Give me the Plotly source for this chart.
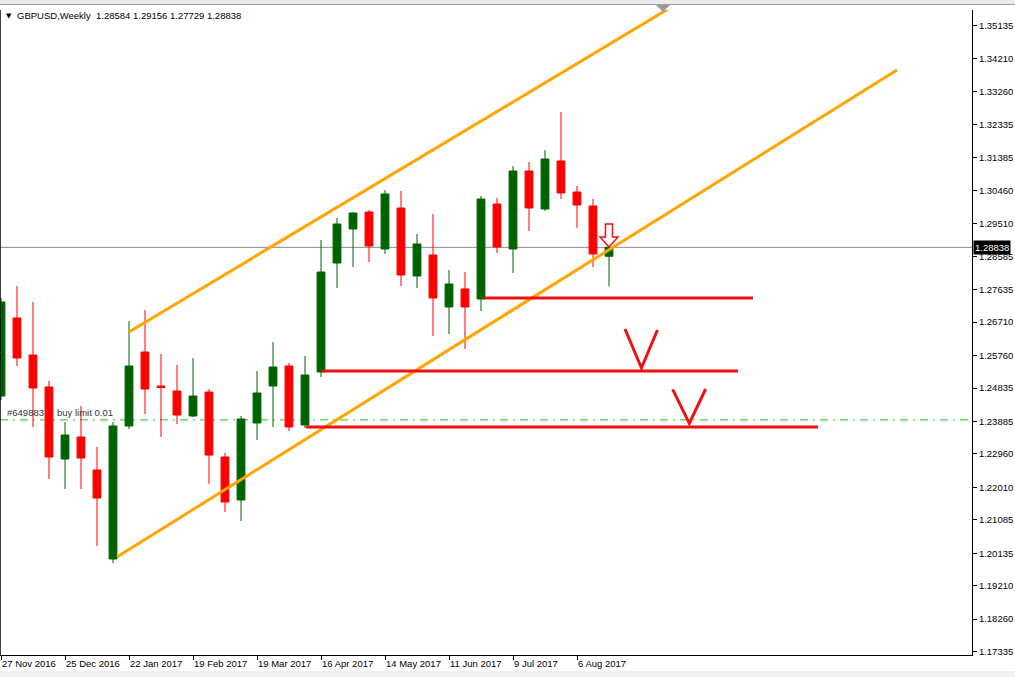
import plotly.graph_objects as go
import pandas as pd

# ---------------- data ----------------
weeks = pd.date_range("2016-11-27", periods=39, freq="7D").strftime("%Y-%m-%d").tolist()

opens = [1.24608, 1.26828, 1.25775, 1.24865, 1.22816, 1.23442, 1.22503, 1.19971, 1.23755, 1.25860,
         1.24893, 1.24751, 1.24039, 1.24722, 1.22873, 1.21650, 1.23840, 1.24893, 1.25462, 1.23783,
         1.25291, 1.28392, 1.29360, 1.29843, 1.28791, 1.29957, 1.28022, 1.28620, 1.27141, 1.27653,
         1.27368, 1.30071, 1.28791, 1.31010, 1.29929, 1.31294, 1.30412, 1.30014, 1.28584]
highs = [1.27397, 1.27738, 1.27283, 1.25035, 1.23869, 1.24324, 1.23158, 1.23869, 1.26742, 1.27055,
         1.25803, 1.25490, 1.25690, 1.24808, 1.22987, 1.24039, 1.25320, 1.26145, 1.25547, 1.25746,
         1.29047, 1.29673, 1.29843, 1.29900, 1.30469, 1.30441, 1.29217, 1.29786, 1.28193, 1.28136,
         1.30298, 1.30242, 1.31152, 1.31266, 1.31607, 1.32688, 1.30583, 1.30213, 1.29156]
lows = [1.24495, 1.25462, 1.23727, 1.22247, 1.21963, 1.21963, 1.20341, 1.19857, 1.23670, 1.24096,
        1.23442, 1.23812, 1.24011, 1.22105, 1.21308, 1.21052, 1.23357, 1.23727, 1.23613, 1.23698,
        1.25149, 1.27681, 1.28279, 1.28421, 1.28648, 1.27738, 1.27681, 1.26315, 1.26372, 1.25946,
        1.27027, 1.28677, 1.28108, 1.29303, 1.29872, 1.30213, 1.29388, 1.28279, 1.27729]
closes = [1.27283, 1.25690, 1.24836, 1.22873, 1.23499, 1.22845, 1.21707, 1.23755, 1.25462, 1.24808,
          1.24850, 1.24068, 1.24608, 1.22930, 1.21593, 1.23954, 1.24694, 1.25434, 1.23727, 1.25206,
          1.28136, 1.29502, 1.29815, 1.28876, 1.30355, 1.28051, 1.28933, 1.27397, 1.27795, 1.27141,
          1.30213, 1.28848, 1.31010, 1.29957, 1.31351, 1.30384, 1.30042, 1.28648, 1.28838]

x_tick_idx = [0, 4, 8, 12, 16, 20, 24, 28, 32, 36]
x_tick_labels = ["27 Nov 2016", "25 Dec 2016", "22 Jan 2017", "19 Feb 2017", "19 Mar 2017",
                 "16 Apr 2017", "14 May 2017", "11 Jun 2017", "9 Jul 2017", "6 Aug 2017"]

y_ticks = [1.35135, 1.34210, 1.33260, 1.32335, 1.31385, 1.30460, 1.29510, 1.28585, 1.27635, 1.26710,
           1.25760, 1.24835, 1.23885, 1.22960, 1.22010, 1.21085, 1.20135, 1.19210, 1.18260, 1.17335]
y_tick_labels = [f"{v:.5f}" for v in y_ticks]

symbol = "GBPUSD,Weekly"
bid = 1.28838
order_price = 1.2393
order_text = ["#649883", "buy limit 0.01"]

# drawn objects (bar index, price)
upper_channel = [(8.0, 1.26429), (41.69, 1.35619)]
lower_channel = [(7.25, 1.20028), (56.0, 1.33883)]
levels = [(30.2, 47.0, 1.27397), (20.06, 46.06, 1.25320), (19.06, 51.06, 1.23727)]
v_marks = [[(39.0, 1.26515), (40.03, 1.25405), (41.03, 1.26486)],
           [(41.98, 1.24799), (43.02, 1.23832), (44.04, 1.24808)]]
arrow_bar = 38
arrow_prices = (1.29502, 1.29132, 1.28848)

# ---------------- figure ----------------
W, H = 1015, 677
ML, MR, MT, MB = 0, 43, 10, 22
PW, PH = W - ML - MR, H - MT - MB
Y_RANGE = [1.17240, 1.35590]
X_RANGE = [-1 / 16, 971 / 16]

def px_x(p):
    return (p - ML) / PW

def px_y(p):
    return (H - MB - p) / PH

FONT = "Liberation Sans, Arial, sans-serif"
xs = list(range(len(weeks)))

fig = go.Figure()

# order label text (behind candles)
fig.add_trace(go.Scatter(
    x=[0.375, 3.5], y=[1.24110, 1.24110], mode="text", text=order_text,
    textposition="middle right", textfont=dict(family=FONT, size=9.5, color="#333333"),
    hoverinfo="skip", showlegend=False))

fig.add_trace(go.Candlestick(
    x=xs, open=opens, high=highs, low=lows, close=closes,
    increasing=dict(line=dict(color="#006400", width=1), fillcolor="#006400"),
    decreasing=dict(line=dict(color="#ff0000", width=1), fillcolor="#ff0000"),
    hoverinfo="skip", showlegend=False))

shapes = []
# bid line and order line (behind candles)
shapes.append(dict(type="line", xref="paper", yref="y", x0=0, x1=1, y0=bid, y1=bid,
                   line=dict(color="#8a8a8a", width=1), layer="below"))
shapes.append(dict(type="line", xref="paper", yref="y", x0=0, x1=1, y0=order_price, y1=order_price,
                   line=dict(color="#1ec81e", width=1, dash="8px,5px,2px,5px"), layer="below"))
# channel lines
for (a, b) in (upper_channel, lower_channel):
    shapes.append(dict(type="line", xref="x", yref="y", x0=a[0], y0=a[1], x1=b[0], y1=b[1],
                       line=dict(color="#FFA500", width=3)))
# horizontal levels
for x0, x1, p in levels:
    shapes.append(dict(type="line", xref="x", yref="y", x0=x0, x1=x1, y0=p, y1=p,
                       line=dict(color="#ee1111", width=3)))
# V marks
for pts in v_marks:
    path = "M " + " L ".join(f"{a},{b}" for a, b in pts)
    shapes.append(dict(type="path", xref="x", yref="y", path=path,
                       line=dict(color="#ee1111", width=3)))
# hollow down arrow
ax = arrow_bar
p_top, p_mid, p_tip = arrow_prices
sw, hw = 0.22, 0.56
arrow_path = (f"M {ax - sw},{p_top} L {ax + sw},{p_top} L {ax + sw},{p_mid} L {ax + hw},{p_mid} "
              f"L {ax},{p_tip} L {ax - hw},{p_mid} L {ax - sw},{p_mid} Z")
shapes.append(dict(type="path", xref="x", yref="y", path=arrow_path,
                   line=dict(color="#ee1111", width=1.5), fillcolor="white"))
# window decorations
shapes.append(dict(type="rect", xref="paper", yref="paper", x0=px_x(0), x1=px_x(W), y0=px_y(4), y1=px_y(0),
                   fillcolor="#ececec", line=dict(width=0), layer="below"))
shapes.append(dict(type="line", xref="paper", yref="paper", x0=px_x(0), x1=px_x(W), y0=px_y(4.5), y1=px_y(4.5),
                   line=dict(color="#a0a0a0", width=1)))
shapes.append(dict(type="line", xref="paper", yref="paper", x0=0, x1=0, y0=0, y1=1,
                   line=dict(color="black", width=1.5)))
shapes.append(dict(type="path", xref="paper", yref="paper",
                   path=f"M {px_x(656)},{px_y(5)} L {px_x(670)},{px_y(5)} L {px_x(663)},{px_y(12)} Z",
                   fillcolor="#9a9a9a", line=dict(width=0)))
shapes.append(dict(type="rect", xref="paper", yref="paper", x0=px_x(0), x1=px_x(W), y0=px_y(677), y1=px_y(671),
                   fillcolor="#f0f0f0", line=dict(width=0), layer="below"))

annotations = [
    dict(xref="paper", yref="paper", x=px_x(4), y=px_y(16), xanchor="left", yanchor="middle",
         text="▼", showarrow=False, font=dict(family="DejaVu Sans", size=7, color="black")),
    dict(xref="paper", yref="paper", x=px_x(15), y=px_y(16), xanchor="left", yanchor="middle",
         text=f"{symbol}  {opens[-1]:.5f} {highs[-1]:.5f} {lows[-1]:.5f} {closes[-1]:.5f}",
         showarrow=False, font=dict(family=FONT, size=9.5, color="black")),
    dict(xref="paper", yref="y", x=1, y=bid, xanchor="left", yanchor="middle", xshift=1,
         text=f"{bid:.5f}", showarrow=False, bgcolor="black", borderpad=1,
         font=dict(family=FONT, size=9.5, color="white")),
]

fig.update_layout(
    width=W, height=H,
    margin=dict(l=ML, r=MR, t=MT, b=MB),
    paper_bgcolor="white", plot_bgcolor="white",
    showlegend=False, dragmode=False,
    shapes=shapes, annotations=annotations,
    xaxis=dict(range=X_RANGE, rangeslider=dict(visible=False), showgrid=False, zeroline=False,
               tickmode="array", tickvals=x_tick_idx, ticktext=x_tick_labels,
               ticks="outside", ticklen=4, tickcolor="black", ticklabelposition="outside right",
               showline=True, linecolor="black", linewidth=1,
               tickfont=dict(family=FONT, size=9.5, color="black"), fixedrange=True),
    yaxis=dict(range=Y_RANGE, side="right", showgrid=False, zeroline=False,
               tickmode="array", tickvals=y_ticks, ticktext=y_tick_labels,
               ticks="outside", ticklen=4, tickcolor="black",
               showline=True, linecolor="black", linewidth=1,
               tickfont=dict(family=FONT, size=9.5, color="black"), fixedrange=True),
)

fig.write_html("out.html", config={"displayModeBar": False},
               post_script="document.body.style.margin='0';document.body.style.overflow='hidden';")
